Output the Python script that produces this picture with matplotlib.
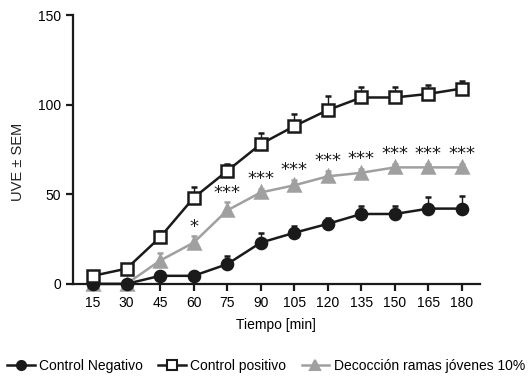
import matplotlib
matplotlib.use("Agg")
import matplotlib.pyplot as plt
from matplotlib.lines import Line2D
import numpy as np

plt.rcParams['font.family'] = ['Liberation Sans', 'DejaVu Sans']

time = [15, 30, 45, 60, 75, 90, 105, 120, 135, 150, 165, 180]
neg = [0, 0, 4.5, 4.5, 11, 23, 28.5, 33.5, 39, 39, 42, 42]
neg_err = [0, 0, 0, 0, 4.5, 5.5, 4, 3.5, 4.5, 4.5, 6.5, 7]
pos = [4.5, 8.5, 26, 48, 63, 78, 88, 97, 104, 104, 106, 109]
pos_err = [0, 0, 3.5, 6, 4, 6, 7, 8, 6, 6, 5, 4]
dec = [0, 0, 13, 23, 41, 51, 55, 60, 62, 65, 65, 65]
dec_err = [0, 0, 4, 3.5, 4.5, 2, 3, 3, 2, 2, 2, 2]
signif = ['', '', '', '*', '***', '***', '***', '***', '***', '***', '***', '***']

labels = ['Control Negativo', 'Control positivo', 'Decocción ramas jóvenes 10%']
gray = '#a0a0a0'
black = '#1a1a1a'

fig = plt.figure(figsize=(5.32, 3.76), dpi=100)
ax = fig.add_axes([0.137, 0.245, 0.765, 0.715])

styles = {}
def series(y, err, color, marker, mfc, ms, label, z):
    ax.errorbar(time, y, yerr=[np.zeros(len(err)), err], color=color, lw=1.8,
                marker=marker, mfc=mfc, mec=color, mew=1.8, ms=ms,
                ecolor=color, elinewidth=1.0, capsize=2.5, capthick=1.0,
                zorder=z, clip_on=False)
    styles[label] = Line2D([], [], color=color, lw=1.8, marker=marker, mfc=mfc,
                           mec=color, mew=1.5, ms=ms - 1.5)

series(dec, dec_err, gray, '^', gray, 9, labels[2], 3)
series(neg, neg_err, black, 'o', black, 8, labels[0], 4)
series(pos, pos_err, black, 's', 'white', 8, labels[1], 5)

for t, v, e, s in zip(time, dec, dec_err, signif):
    if s:
        ax.annotate(s, (t, v + e), xytext=(0, 7), textcoords='offset points',
                    ha='center', va='center', fontsize=13, color=black,
                    family='DejaVu Sans')

ax.set_xlim(6, 188)
ax.set_ylim(0, 150)
ax.set_xticks(time)
ax.set_yticks([0, 50, 100, 150])
ax.spines['top'].set_visible(False)
ax.spines['right'].set_visible(False)
for sp in ['left', 'bottom']:
    ax.spines[sp].set_linewidth(1.6)
    ax.spines[sp].set_color(black)
ax.tick_params(width=1.6, length=5, labelsize=10, color=black)
ax.set_xlabel('Tiempo [min]', fontsize=10, labelpad=6)
fig.text(0.033, 0.569, 'UVE ± SEM', rotation=90, ha='center', va='center',
         fontsize=10.5, color='#222222')

fig.legend([styles[k] for k in labels], labels, loc='center',
           bbox_to_anchor=(0.5, 0.027), ncol=3, frameon=False, fontsize=10,
           handlelength=2.0, columnspacing=1.1, handletextpad=0.3)

fig.savefig('out.png', dpi=100)
